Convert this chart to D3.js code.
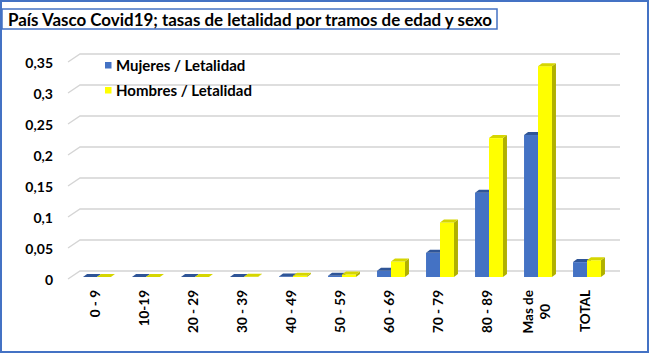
<!DOCTYPE html>
<html>
<head>
<meta charset="utf-8">
<script src="https://cdn.jsdelivr.net/npm/d3@7"></script>
<style>
  html, body { margin: 0; padding: 0; background: #fff; }
  svg { display: block; }
  text { font-family: Lato, "Open Sans", sans-serif; font-weight: bold; fill: #000; }
</style>
</head>
<body>
<svg id="chart" width="650" height="354"></svg>
<script>
const title = "País Vasco Covid19; tasas de letalidad por tramos de edad y sexo";
const categories = ["0 - 9", "10-19", "20 - 29", "30 - 39", "40 - 49", "50 - 59", "60 - 69", "70 - 79", "80 - 89", "Mas de 90", "TOTAL"];
const seriesNames = ["Mujeres / Letalidad", "Hombres / Letalidad"];
const mujeres = [0.0002, 0.0002, 0.0002, 0.0002, 0.001, 0.002, 0.010, 0.039, 0.136, 0.229, 0.024];
const hombres = [0.0002, 0.0002, 0.0002, 0.0003, 0.002, 0.004, 0.025, 0.088, 0.224, 0.340, 0.027];
const yTicks = [0, 0.05, 0.1, 0.15, 0.2, 0.25, 0.3, 0.35];
const labelLines = {"Mas de 90": ["Mas de", "90"]};

const colors = [
  {front: "#4472C4", top: "#2F5597", side: "#2F528F"},
  {front: "#FFFF00", top: "#D6D600", side: "#B0B000"}
];

const svg = d3.select("#chart");

// outer frame
svg.append("rect").attr("x", 1).attr("y", 1).attr("width", 647).attr("height", 351)
  .attr("fill", "#fff").attr("stroke", "#4472C4").attr("stroke-width", 2);

// title box
svg.append("rect").attr("x", 2).attr("y", 9).attr("width", 495).attr("height", 20)
  .attr("fill", "#fff").attr("stroke", "#4472C4").attr("stroke-width", 1.5);
svg.append("text").attr("x", 8).attr("y", 19.5).attr("dominant-baseline", "central")
  .attr("textLength", 484).attr("lengthAdjust", "spacingAndGlyphs")
  .style("font-size", "16.5px").text(title);

const depthX = 4, depthY = 3;
const y = d3.scaleLinear().domain([0, 0.35]).range([277, 60]);
const x = d3.scaleBand().domain(categories).range([72.5, 611.5]).paddingInner(0.43).paddingOuter(0.215);
const xs = d3.scaleBand().domain(seriesNames).range([0, x.bandwidth()]);

// gridlines (back wall with perspective slant)
const grid = svg.append("g");
yTicks.forEach(v => {
  const yb = y(v) - 6;
  grid.append("path")
    .attr("d", `M68,${yb + 8}L80,${yb}L620,${yb}`)
    .attr("fill", "none").attr("stroke", "#D4D4D4").attr("stroke-width", 1.3);
});

// y axis labels
const yAxis = d3.axisLeft(y).tickValues(yTicks).tickSize(0).tickPadding(0)
  .tickFormat(v => String(v).replace(".", ","));
const ya = svg.append("g").attr("transform", "translate(53,3)").call(yAxis);
ya.select(".domain").remove();
ya.selectAll("text").style("font-size", "14px").style("font-family", "Lato, sans-serif").style("font-weight", "bold").attr("fill", "#000");

// bars
const seriesData = [mujeres, hombres];
categories.forEach((c, i) => {
  seriesData.forEach((vals, s) => {
    const v = vals[i];
    const x0 = x(c) + xs(seriesNames[s]);
    const w = xs.bandwidth();
    const y0 = y(0), y1 = y(v);
    const col = colors[s];
    const g = svg.append("g");
    g.append("path").attr("d", `M${x0 + w},${y1}L${x0 + w + depthX},${y1 - depthY}L${x0 + w + depthX},${y0 - depthY}L${x0 + w},${y0}Z`)
      .attr("fill", col.side);
    g.append("rect").attr("x", x0).attr("y", y1).attr("width", w).attr("height", Math.max(0, y0 - y1))
      .attr("fill", col.front);
    g.append("path").attr("d", `M${x0},${y1}L${x0 + depthX},${y1 - depthY}L${x0 + w + depthX},${y1 - depthY}L${x0 + w},${y1}Z`)
      .attr("fill", col.top);
  });
});

// x axis labels (rotated)
const xl = svg.append("g");
const xFont = "13.5px";
categories.forEach(c => {
  const cx = x(c) + x.bandwidth() / 2 - 2;
  const lines = labelLines[c] || [c];
  const topY = 290;
  if (lines.length === 1) {
    xl.append("text").attr("transform", `translate(${cx},${topY}) rotate(-90)`)
      .attr("text-anchor", "end").attr("dominant-baseline", "central")
      .style("font-size", xFont).text(c);
  } else {
    const tmp = xl.append("text").style("font-size", xFont).text(lines[0]);
    const len = tmp.node().getComputedTextLength();
    tmp.remove();
    const mid = topY + len / 2;
    lines.forEach((ln, k) => {
      const off = (k - (lines.length - 1) / 2) * 17;
      xl.append("text").attr("transform", `translate(${cx + off},${mid}) rotate(-90)`)
        .attr("text-anchor", "middle").attr("dominant-baseline", "central")
        .style("font-size", xFont).text(ln);
    });
  }
});

// legend
const lg = svg.append("g");
seriesNames.forEach((n, k) => {
  const ly = 65 + k * 25;
  lg.append("rect").attr("x", 105).attr("y", ly - 3).attr("width", 6.5).attr("height", 6.5).attr("fill", colors[k].front);
  lg.append("text").attr("x", 116).attr("y", ly).attr("dominant-baseline", "central")
    .style("font-size", "15px").text(n);
});
</script>
</body>
</html>
